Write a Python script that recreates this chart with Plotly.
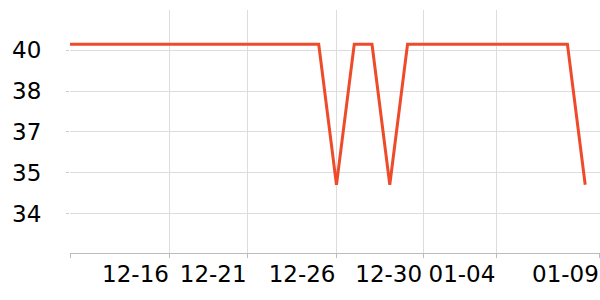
import pandas as pd
import plotly.graph_objects as go

dates = pd.date_range("2023-12-11", periods=30, freq="D")
values = [39.72] * 15 + [34.56] + [39.72] * 2 + [34.56] + [39.72] * 10 + [34.56]

x_tickvals = ["2023-12-11", "2023-12-16 15:00", "2023-12-21", "2023-12-26",
              "2023-12-30 21:00", "2024-01-04", "2024-01-09 19:50"]
x_ticktext = ["", "12-16", "12-21", "12-26", "12-30", "01-04", "01-09"]

fig = go.Figure()
fig.add_trace(go.Scatter(
    x=dates, y=values, mode="lines",
    line=dict(color="#ee4b2b", width=3),
    hoverinfo="skip",
))

fig.update_layout(
    width=600, height=300,
    margin=dict(l=70, r=0, t=10, b=47),
    paper_bgcolor="white", plot_bgcolor="white",
    showlegend=False,
    font=dict(family="DejaVu Sans", size=23, color="#000"),
)
fig.update_xaxes(
    type="date",
    range=["2023-12-11", "2024-01-09 20:00"],
    tickmode="array", tickvals=x_tickvals, ticktext=x_ticktext,
    ticklabelposition="outside left",
    tickangle=0,
    showgrid=True, gridcolor="#dddddd", gridwidth=1,
    showline=True, linecolor="#bbbbbb", linewidth=1,
    ticks="outside", ticklen=4, tickcolor="#bbbbbb",
    zeroline=False,
)
fig.update_yaxes(
    range=[32.05, 40.98],
    tick0=33.5, dtick=1.5, tickformat=".0f",
    showgrid=True, gridcolor="#dddddd", gridwidth=1,
    showline=False,
    ticks="outside", ticklen=3, tickcolor="#cccccc",
    ticklabelstandoff=20,
    zeroline=False,
)

fig.write_html("out.html")
